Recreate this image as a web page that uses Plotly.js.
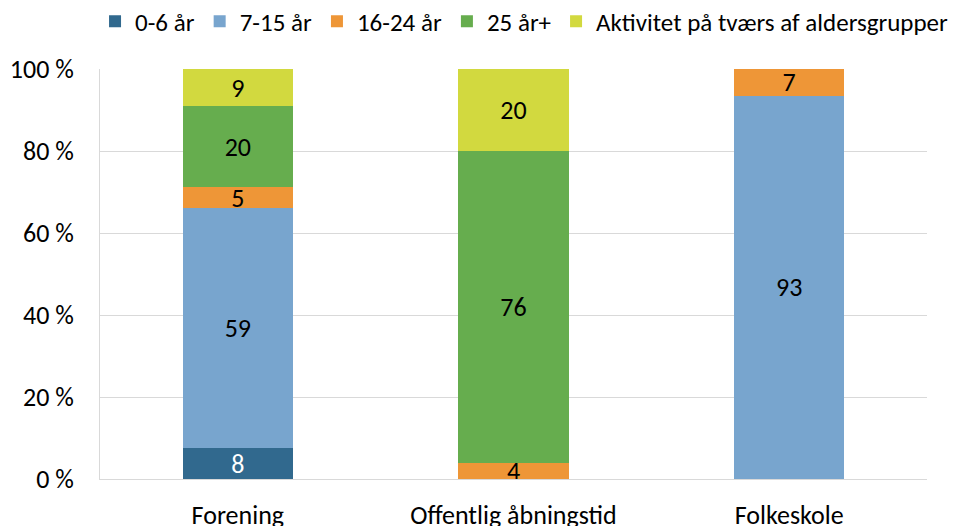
<!DOCTYPE html>
<html><head><meta charset="utf-8">
<script src="https://cdn.plot.ly/plotly-3.0.1.min.js"></script>
<style>body{margin:0}#c{width:953px;height:526px}</style>
</head><body><div id="c"></div>
<script>
const categories = ["Forening", "Offentlig åbningstid", "Folkeskole"];
const seriesNames = ["0-6 år", "7-15 år", "16-24 år", "25 år+", "Aktivitet på tværs af aldersgrupper"];
const s0_6 = [7.5, 0, 0];
const s7_15 = [58.6, 0, 93.5];
const s16_24 = [5.1, 3.9, 6.5];
const s25 = [19.7, 76.1, 0];
const sTvaers = [9.1, 20.0, 0];
const labels0_6 = ["8", "", ""];
const labels7_15 = ["59", "", "93"];
const labels16_24 = ["5", "4", "7"];
const labels25 = ["20", "76", ""];
const labelsTvaers = ["9", "20", ""];
const yTicks = [0, 20, 40, 60, 80, 100];

const colors = ["#31698E", "#78A5CE", "#EE9637", "#66AD4E", "#D2D93F"];
const textColors = ["#FFFFFF", "#000000", "#000000", "#000000", "#000000"];
const vals = [s0_6, s7_15, s16_24, s25, sTvaers];
const txts = [labels0_6, labels7_15, labels16_24, labels25, labelsTvaers];
const FONT = "Carlito, Calibri, 'Liberation Sans Narrow', 'Open Sans', sans-serif";
const FS = 26;

const data = vals.map((v, i) => ({
  type: "bar",
  name: seriesNames[i],
  x: categories,
  y: v,
  text: txts[i],
  texttemplate: "%{text}",
  textposition: "inside",
  insidetextanchor: "middle",
  textangle: 0,
  constraintext: "none",
  textfont: {family: FONT, size: FS, color: textColors[i]},
  marker: {color: colors[i], line: {width: 0}},
  hoverinfo: "skip"
}));

const layout = {
  width: 953, height: 526,
  barmode: "stack",
  bargap: 0.6,
  margin: {l: 100, r: 26, t: 69, b: 47, autoexpand: false},
  paper_bgcolor: "#FFFFFF",
  plot_bgcolor: "#FFFFFF",
  font: {family: FONT, size: FS, color: "#000000"},
  showlegend: true,
  legend: {
    orientation: "h", xref: "paper", yref: "paper",
    x: -0.006, xanchor: "left", y: 1.116, yanchor: "middle",
    font: {family: FONT, size: 25, color: "#000000"},
    itemwidth: 30, traceorder: "normal", itemclick: false,
    bgcolor: "rgba(0,0,0,0)", borderwidth: 0
  },
  xaxis: {
    showgrid: false, showline: true, linecolor: "#D9D9D9", linewidth: 1,
    ticks: "", ticklabelstandoff: 13, tickfont: {family: FONT, size: FS}, fixedrange: true
  },
  yaxis: {
    range: [0, 100], tickvals: yTicks, ticktext: yTicks.map(t => t + " %"),
    showgrid: true, gridcolor: "#D9D9D9", gridwidth: 1,
    showline: true, linecolor: "#D9D9D9", linewidth: 1,
    zeroline: false, ticks: "", ticklen: 0, ticklabelstandoff: 20,
    tickfont: {family: FONT, size: FS}, fixedrange: true
  }
};
Plotly.newPlot("c", data, layout, {displayModeBar: false, staticPlot: true});
</script>
</body></html>
